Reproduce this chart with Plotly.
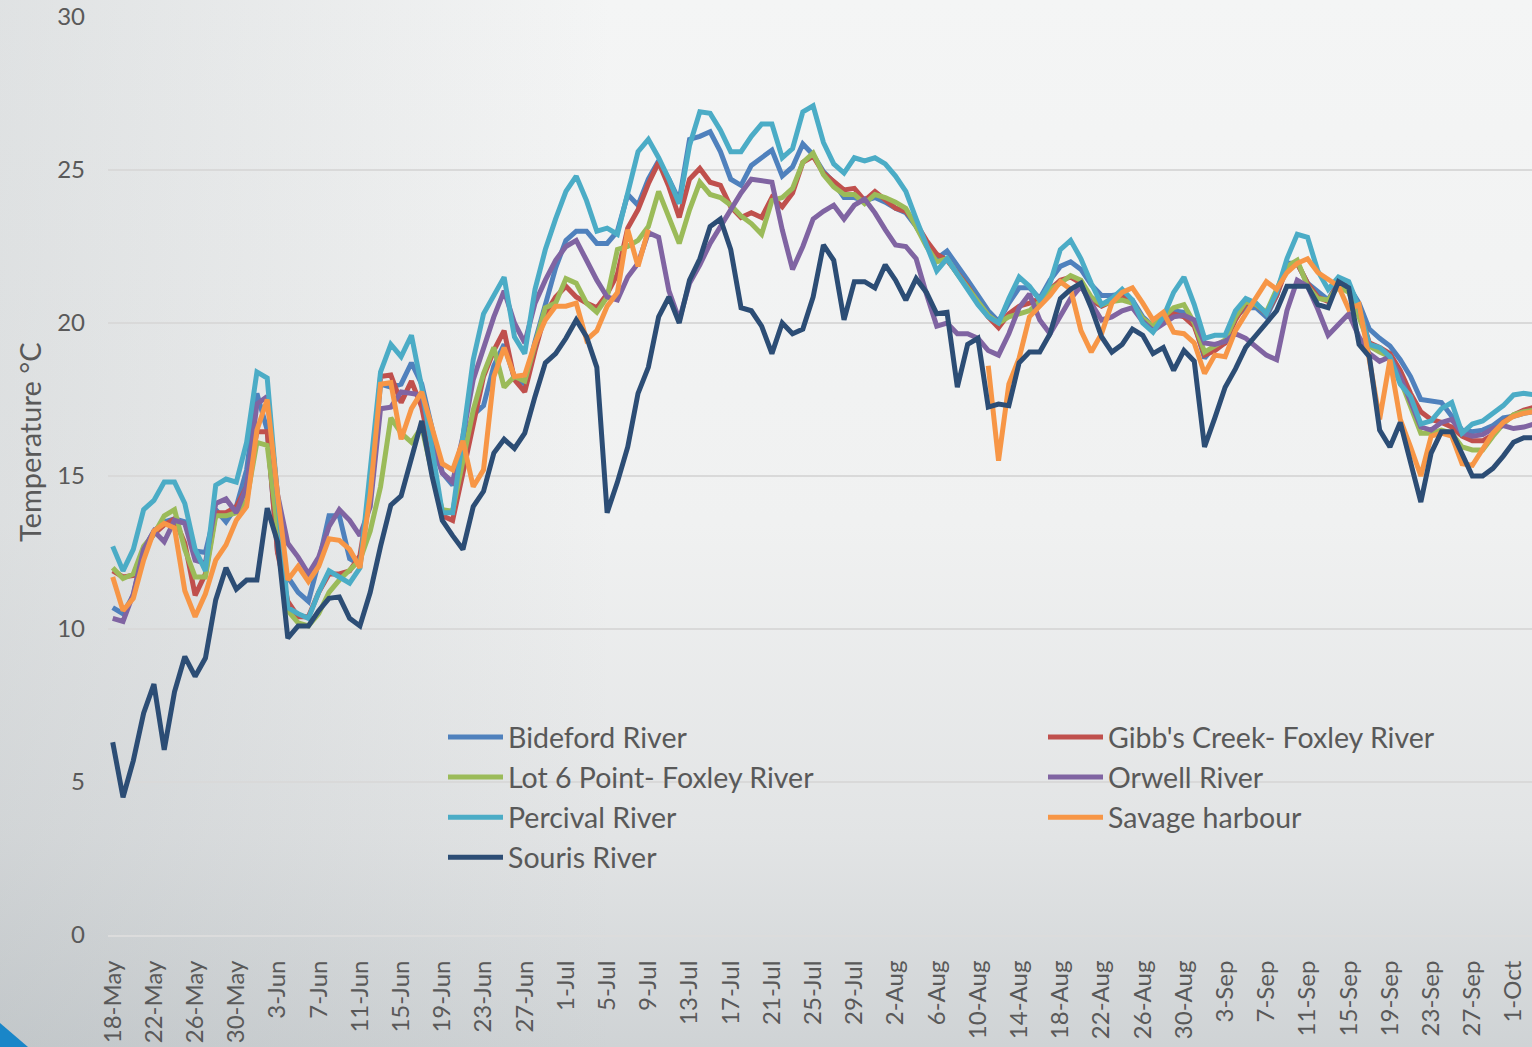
import base64
import pandas as pd
import plotly.graph_objects as go

# ---------------- data (daily mean water temperature, deg C) ----------------
dates = pd.date_range("2014-05-18", periods=139, freq="D")

bideford = [
    10.7, 10.5, 11.1, 12.6, 13.2, 13.5, 13.6, 13.5, 12.55, 12.5,
    13.9, 13.5, 14.0, 15.2, 17.7, 16.5, 12.5, 11.7, 11.2, 10.9,
    12.2, 13.7, 13.7, 12.3, 12.1, 14.5, 18.0, 17.9, 18.0, 18.7,
    18.0, 16.5, 15.1, 14.7, 16.0, 17.0, 17.3, 18.6, 19.3, 18.2,
    18.0, 19.4, 20.6, 21.8, 22.7, 23.0, 23.0, 22.6, 22.6, 23.0,
    24.2, 23.85, 24.7, 25.3, 24.7, 24.0, 26.0, 26.1, 26.25, 25.6,
    24.7, 24.5, 25.15, 25.4, 25.65, 24.8, 25.1, 25.85, 25.5, 24.95,
    24.6, 24.1, 24.1, 24.0, 24.1, 23.95, 23.75, 23.6, 23.15, 22.6,
    22.1, 22.35, 21.9, 21.4, 20.9, 20.4, 20.05, 20.65, 21.15, 21.15,
    20.8, 21.4, 21.85, 22.0, 21.75, 21.25, 20.9, 20.9, 20.95, 20.75,
    20.2, 19.9, 20.2, 20.4, 20.35, 20.0, 18.85, 19.25, 19.35, 20.2,
    20.5, 20.5, 20.2, 20.9, 21.95, 21.95, 21.3, 21.0, 20.75, 21.35,
    21.2, 20.65, 19.8, 19.5, 19.25, 18.8, 18.25, 17.5, 17.45, 17.4,
    16.95, 16.5, 16.45, 16.5, 16.65, 16.9, 16.95, 17.05, 17.1,
]

gibbs = [
    11.9, 11.7, 11.75, 12.6, 13.1, 13.4, 13.6, 12.8, 11.1, 11.8,
    13.8, 13.8, 14.0, 14.65, 16.45, 16.45, 12.5, 10.9, 10.4, 10.4,
    11.2, 11.8, 11.8, 11.9, 12.4, 14.5, 18.25, 18.3, 17.4, 18.1,
    17.25, 15.6, 13.7, 13.55, 15.1, 16.7, 18.25, 19.1, 19.75, 18.15,
    17.75, 19.1, 20.3, 20.85, 21.2, 20.85, 20.65, 20.5, 20.95, 21.6,
    23.1, 23.7, 24.55, 25.25, 24.45, 23.45, 24.7, 25.05, 24.6, 24.5,
    23.8, 23.45, 23.6, 23.45, 24.1, 23.8, 24.25, 25.25, 25.45, 24.9,
    24.6, 24.35, 24.4, 24.0, 24.3, 24.0, 23.75, 23.65, 23.25, 22.7,
    22.25, 22.05, 21.65, 21.2, 20.65, 20.2, 19.85, 20.3, 20.55, 20.65,
    20.8, 21.1, 21.4, 21.5, 21.3, 20.75, 20.55, 20.7, 20.85, 20.65,
    20.1, 19.9, 20.15, 20.3, 20.2, 19.9, 18.95, 19.1, 19.35, 20.1,
    20.65, 20.6, 20.3, 20.9, 21.8, 21.95, 21.3, 20.85, 20.7, 21.3,
    21.2, 20.45, 19.35, 19.2, 19.0, 18.45, 17.7, 17.1, 16.85, 16.75,
    16.6, 16.3, 16.15, 16.15, 16.35, 16.75, 17.0, 17.15, 17.25,
]

lot6 = [
    12.0, 11.65, 11.8, 12.7, 13.1, 13.7, 13.9, 12.6, 11.7, 11.7,
    13.7, 13.7, 13.8, 14.2, 16.1, 16.0, 13.3, 10.6, 10.2, 10.1,
    10.5, 11.2, 11.6, 11.9, 12.25, 13.2, 14.65, 16.9, 16.4, 16.1,
    16.6, 15.1, 13.9, 13.85, 15.5, 17.15, 18.35, 19.2, 17.9, 18.25,
    18.1, 19.35, 20.5, 20.65, 21.45, 21.3, 20.65, 20.35, 20.85, 22.4,
    22.5, 22.7, 23.15, 24.3, 23.45, 22.6, 23.7, 24.6, 24.2, 24.1,
    23.85, 23.5, 23.25, 22.9, 24.0, 24.1, 24.4, 25.25, 25.55, 24.85,
    24.45, 24.2, 24.2, 23.9, 24.2, 24.1, 23.95, 23.75, 23.15, 22.5,
    22.0, 22.1, 21.6, 21.15, 20.65, 20.25, 20.0, 20.2, 20.3, 20.4,
    20.7, 21.1, 21.3, 21.55, 21.4, 20.85, 20.6, 20.7, 20.75, 20.65,
    20.15, 19.9, 20.2, 20.5, 20.6, 20.0, 19.05, 19.25, 19.45, 20.2,
    20.7, 20.6, 20.35, 21.1, 21.85, 22.05, 21.2, 20.8, 20.75, 21.2,
    21.0, 20.2, 19.25, 19.05, 18.9, 18.15, 17.3, 16.4, 16.4, 16.5,
    16.4, 15.95, 15.85, 15.85, 16.3, 16.7, 17.0, 17.1, 17.15,
]

orwell = [
    10.35, 10.25, 11.15, 12.6, 13.2, 12.85, 13.55, 13.45, 12.25, 12.15,
    14.1, 14.25, 13.8, 14.65, 17.35, 17.6, 14.4, 12.8, 12.35, 11.8,
    12.35, 13.35, 13.9, 13.55, 13.05, 14.0, 17.2, 17.25, 17.75, 17.7,
    17.65, 16.05, 15.1, 14.8, 16.3, 18.15, 19.2, 20.2, 21.05, 20.0,
    19.35, 20.65, 21.4, 22.05, 22.5, 22.7, 22.05, 21.4, 20.85, 20.75,
    21.5, 21.95, 22.95, 22.8, 21.05, 20.1, 21.3, 21.9, 22.6, 23.15,
    23.7, 24.25, 24.7, 24.65, 24.6, 23.05, 21.75, 22.5, 23.4, 23.65,
    23.85, 23.4, 23.85, 24.05, 23.6, 23.05, 22.55, 22.5, 22.1, 20.95,
    19.9, 20.0, 19.65, 19.65, 19.5, 19.1, 18.95, 19.65, 20.5, 20.95,
    20.1, 19.65, 20.2, 20.8, 21.2, 20.65, 20.1, 20.2, 20.4, 20.5,
    20.05, 19.75, 20.0, 20.2, 20.25, 20.1, 19.35, 19.3, 19.4, 19.65,
    19.5, 19.2, 18.95, 18.8, 20.4, 21.4, 21.2, 20.45, 19.6, 19.95,
    20.3, 19.55, 19.0, 18.75, 18.9, 18.25, 17.45, 16.6, 16.5, 16.75,
    16.85, 16.4, 16.3, 16.35, 16.55, 16.65, 16.55, 16.6, 16.7,
]

percival = [
    12.7, 11.9, 12.6, 13.9, 14.2, 14.8, 14.8, 14.1, 12.6, 11.9,
    14.7, 14.9, 14.8, 16.1, 18.4, 18.2, 14.3, 10.7, 10.5, 10.35,
    11.2, 11.9, 11.7, 11.5, 12.0, 15.3, 18.4, 19.3, 18.9, 19.6,
    17.9, 15.9, 13.8, 13.8, 16.3, 18.8, 20.3, 20.9, 21.5, 19.55,
    19.0, 21.1, 22.4, 23.4, 24.3, 24.8, 24.0, 23.0, 23.1, 22.9,
    24.2, 25.6, 26.0, 25.4, 24.7, 23.9, 25.8, 26.9, 26.85, 26.3,
    25.6, 25.6, 26.1, 26.5, 26.5, 25.4, 25.7, 26.9, 27.1, 25.9,
    25.2, 24.9, 25.4, 25.3, 25.4, 25.2, 24.8, 24.3, 23.4, 22.5,
    21.7, 22.1, 21.6, 21.1, 20.6, 20.2, 20.0, 20.8, 21.5, 21.2,
    20.75, 21.3, 22.4, 22.7, 22.1, 21.3, 20.6, 20.8, 21.1, 20.75,
    20.0, 19.7, 20.2, 21.0, 21.5, 20.6, 19.5, 19.6, 19.6, 20.4,
    20.8, 20.65, 20.3, 21.0, 22.1, 22.9, 22.8, 21.7, 21.1, 21.5,
    21.35, 20.5, 19.3, 19.2, 18.9, 18.0, 17.6, 16.7, 16.8, 17.2,
    17.4, 16.4, 16.7, 16.8, 17.05, 17.3, 17.65, 17.7, 17.65,
]

savage = [
    11.7, 10.6, 11.0, 12.25, 13.2, 13.45, 13.3, 11.25, 10.4, 11.15,
    12.25, 12.75, 13.55, 14.0, 16.5, 17.5, 14.4, 11.6, 12.05, 11.55,
    12.05, 12.95, 12.9, 12.6, 12.0, 14.4, 18.0, 18.05, 16.2, 17.2,
    17.75, 16.5, 15.4, 15.2, 16.15, 14.65, 15.2, 18.25, 19.2, 18.25,
    18.3, 19.35, 20.1, 20.55, 20.55, 20.65, 19.45, 19.75, 20.55, 21.0,
    23.05, 21.85, 23.05, None, None, None, None, None, None, None,
    None, None, None, None, None, None, None, None, None, None,
    None, None, None, None, None, None, None, None, None, None,
    None, None, None, None, None, 18.6, 15.5, 18.0, 18.85, 20.2,
    20.55, 20.9, 21.35, 21.1, 19.75, 19.05, 19.65, 20.65, 21.0, 21.15,
    20.65, 20.1, 20.35, 19.7, 19.65, 19.35, 18.35, 18.95, 18.9, 19.75,
    20.3, 20.8, 21.35, 21.1, 21.65, 21.95, 22.1, 21.65, 21.4, 21.2,
    20.45, 20.6, 18.8, 16.85, 18.8, 16.85, 15.95, 15.0, 16.3, 16.4,
    16.3, 15.4, 15.35, 15.85, 16.4, 16.75, 16.95, 17.05, 17.1,
]

souris = [
    6.3, 4.5, 5.7, 7.25, 8.2, 6.05, 7.95, 9.1, 8.45, 9.05,
    10.95, 12.0, 11.3, 11.6, 11.6, 13.95, 12.85, 9.7, 10.1, 10.1,
    10.6, 11.0, 11.05, 10.35, 10.1, 11.2, 12.7, 14.05, 14.35, 15.55,
    16.8, 15.0, 13.55, 13.05, 12.6, 14.0, 14.5, 15.75, 16.2, 15.9,
    16.4, 17.6, 18.7, 19.0, 19.5, 20.1, 19.55, 18.55, 13.8, 14.8,
    15.95, 17.7, 18.55, 20.2, 20.85, 20.0, 21.4, 22.1, 23.15, 23.4,
    22.4, 20.5, 20.4, 19.9, 19.0, 20.0, 19.65, 19.8, 20.85, 22.55,
    22.05, 20.1, 21.35, 21.35, 21.15, 21.9, 21.4, 20.75, 21.45, 21.0,
    20.3, 20.35, 17.9, 19.3, 19.5, 17.25, 17.35, 17.3, 18.7, 19.05,
    19.05, 19.65, 20.8, 21.1, 21.3, 20.5, 19.55, 19.05, 19.3, 19.8,
    19.6, 19.0, 19.2, 18.45, 19.1, 18.75, 15.95, 16.9, 17.9, 18.5,
    19.2, 19.6, 20.0, 20.4, 21.2, 21.2, 21.2, 20.6, 20.5, 21.35,
    21.15, 19.3, 18.9, 16.5, 15.95, 16.75, 15.4, 14.15, 15.75, 16.45,
    16.45, 15.75, 15.0, 15.0, 15.25, 15.65, 16.1, 16.25, 16.25,
]

series_names = [
    "Bideford River", "Gibb's Creek- Foxley River", "Lot 6 Point- Foxley River",
    "Orwell River", "Percival River", "Savage harbour", "Souris River",
]
series_values = [bideford, gibbs, lot6, orwell, percival, savage, souris]
series_colors = ["#4F81BD", "#C0504D", "#9BBB59", "#8064A2", "#4BACC6", "#F79646", "#2C4D75"]
series_legend = ["legend", "legend2", "legend", "legend2", "legend", "legend2", "legend"]

y_title = "Temperature °C"

# ---------------- layout geometry ----------------
W, H = 1532, 1047
ML, MR, MT, MB = 108, 0, 17, 112
PW, PH = W - ML - MR, H - MT - MB


def px_to_paper_x(px):
    return (px - ML) / PW


def px_to_paper_y(py):
    return (H - MB - py) / PH


FONT = "Lato, 'Open Sans', Arial, sans-serif"
TXT = "#595959"

# gradient background (decorative) as an inline SVG
svg = f"""<svg xmlns="http://www.w3.org/2000/svg" width="{W}" height="{H}" viewBox="0 0 {W} {H}" preserveAspectRatio="none">
<defs>
<linearGradient id="v" x1="0" y1="0" x2="0" y2="1">
<stop offset="0" stop-color="#f4f5f5"/>
<stop offset="0.5" stop-color="#f0f1f1"/>
<stop offset="0.8" stop-color="#e2e4e5"/>
<stop offset="1" stop-color="#cfd3d5"/>
</linearGradient>
<linearGradient id="h" x1="0" y1="0" x2="1" y2="0">
<stop offset="0" stop-color="#8e979c" stop-opacity="0.2"/>
<stop offset="0.4" stop-color="#8e979c" stop-opacity="0"/>
</linearGradient>
</defs>
<rect width="{W}" height="{H}" fill="url(#v)"/>
<rect width="{W}" height="{H}" fill="url(#h)"/>
<polygon points="0,1023 28,1047 0,1047" fill="#1a86c8"/>
</svg>"""
svg_uri = "data:image/svg+xml;base64," + base64.b64encode(svg.encode("utf-8")).decode("ascii")

fig = go.Figure()
for name, vals, col, lg in zip(series_names, series_values, series_colors, series_legend):
    fig.add_trace(go.Scatter(
        x=dates, y=vals, name=name, mode="lines",
        line=dict(color=col, width=5),
        connectgaps=False, legend=lg,
    ))

fig.update_layout(
    width=W, height=H,
    margin=dict(l=ML, r=MR, t=MT, b=MB, pad=0),
    paper_bgcolor="#e9ebec",
    plot_bgcolor="rgba(0,0,0,0)",
    font=dict(family=FONT, color=TXT),
    images=[dict(
        source=svg_uri, xref="paper", yref="paper",
        x=px_to_paper_x(0), y=px_to_paper_y(0),
        sizex=W / PW, sizey=H / PH,
        xanchor="left", yanchor="top", sizing="stretch", layer="below",
    )],
    xaxis=dict(
        type="date",
        range=["2014-05-17 13:00", "2014-10-02 19:00"],
        tick0="2014-05-18", dtick=4 * 86400000,
        tickformat="%-d-%b", tickangle=-90,
        tickfont=dict(family=FONT, size=24, color=TXT),
        showgrid=False, zeroline=False,
        showline=True, linecolor="#dcdcdc", linewidth=2,
        ticks="", ticklabelstandoff=14,
    ),
    yaxis=dict(
        range=[0, 30], dtick=5, tick0=0,
        tickfont=dict(family=FONT, size=24, color=TXT),
        showgrid=True, gridcolor="#d9d9d9", gridwidth=2,
        zeroline=False, showline=False,
        ticks="", ticklabelstandoff=22,
    ),
    legend=dict(
        x=px_to_paper_x(443), y=px_to_paper_y(712), xanchor="left", yanchor="top",
        bgcolor="rgba(0,0,0,0)", font=dict(family=FONT, size=28.5, color=TXT),
        itemwidth=55, tracegroupgap=0,
    ),
    legend2=dict(
        x=px_to_paper_x(1043), y=px_to_paper_y(712), xanchor="left", yanchor="top",
        bgcolor="rgba(0,0,0,0)", font=dict(family=FONT, size=28.5, color=TXT),
        itemwidth=55, tracegroupgap=0,
    ),
    annotations=[dict(
        text=y_title, xref="paper", yref="paper",
        x=px_to_paper_x(30), y=px_to_paper_y(442),
        xanchor="center", yanchor="middle", textangle=-90, showarrow=False,
        font=dict(family=FONT, size=29, color=TXT),
    )],
    showlegend=True,
)

fig.write_html(
    "out.html",
    config={"displayModeBar": False},
    post_script="document.body.style.margin='0';document.body.style.overflow='hidden';",
)
